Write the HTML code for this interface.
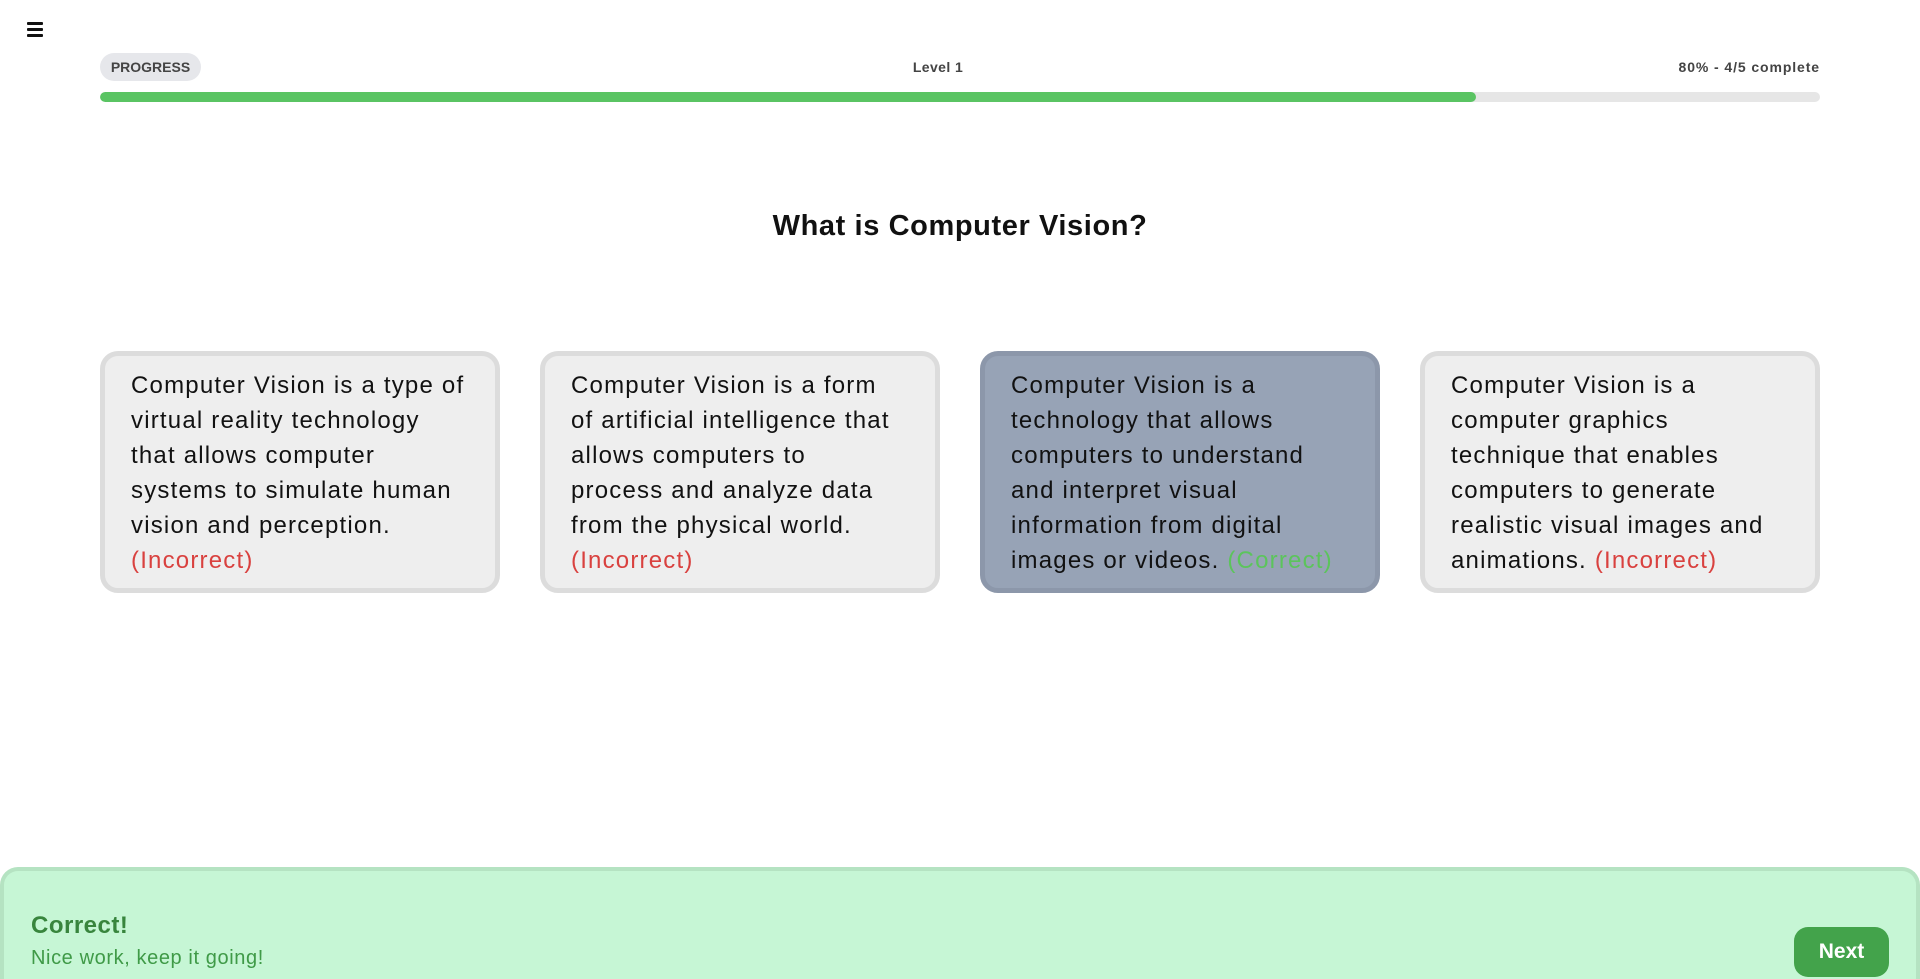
<!DOCTYPE html>
<html><head><meta charset="utf-8"><style>
*{box-sizing:border-box;margin:0;padding:0}
html{width:1920px;height:979px;overflow:hidden}
body{width:1920px;height:979px;overflow:hidden;background:#fff;font-family:"Liberation Sans",sans-serif;position:relative;color:#111}
.abs{position:absolute}
.ham{left:27px;top:22px;width:16px;height:15px}
.ham div{height:3px;background:#111;margin-bottom:3px;border-radius:1px}
.pill{left:100px;top:53px;width:101px;height:28px;border-radius:14px;background:#e6e7eb;color:#444;font-size:14px;font-weight:bold;text-align:center;line-height:28px}
.lvl{left:838px;width:200px;top:59px;text-align:center;font-size:14px;font-weight:bold;color:#444;letter-spacing:0.4px}
.pct{right:100px;top:59px;font-size:14px;font-weight:bold;color:#444;letter-spacing:0.9px}
.track{left:100px;top:92px;width:1720px;height:10px;border-radius:5px;background:#e6e6e6;overflow:hidden}
.fill{width:1376px;height:10px;background:#5ac463;border-radius:5px}
h1{position:absolute;left:0;width:1920px;top:210px;text-align:center;font-size:29px;font-weight:bold;color:#111;letter-spacing:0.6px}
.card{position:absolute;top:351px;width:400px;height:242px;border:5px solid #dcdcdc;border-radius:18px;background:#eeeeee;padding:12px 0 0 26px;font-size:24px;line-height:35px;white-space:nowrap;color:#111;letter-spacing:1.2px}
.sel{background:#97a3b6;border-color:#8c97aa}
.bad{color:#d9413f}.good{color:#5cc45c}
.panel{left:0;top:867px;width:1920px;height:112px;background:#c6f6d5;border:4px solid #b5e3c2;border-bottom:none;border-radius:18px 18px 0 0}
.c1{left:31px;top:912px;font-size:24px;font-weight:bold;color:#38853d;letter-spacing:0.5px}
.c2{left:31px;top:947px;font-size:20px;color:#3f9a47;letter-spacing:0.6px}
.next{left:1794px;top:927px;width:95px;height:50px;border-radius:14px;background:#43a34b;color:#fff;font-weight:bold;font-size:21px;text-align:center;line-height:50px}
</style></head><body>
<div class="abs ham"><div></div><div></div><div></div></div>
<div class="abs pill">PROGRESS</div>
<div class="abs lvl">Level 1</div>
<div class="abs pct">80% - 4/5 complete</div>
<div class="abs track"><div class="fill"></div></div>
<h1>What is Computer Vision?</h1>
<div class="card" style="left:100px">Computer Vision is a type of<br>virtual reality technology<br>that allows computer<br>systems to simulate human<br>vision and perception.<br><span class="bad">(Incorrect)</span></div>
<div class="card" style="left:540px">Computer Vision is a form<br>of artificial intelligence that<br>allows computers to<br>process and analyze data<br>from the physical world.<br><span class="bad">(Incorrect)</span></div>
<div class="card sel" style="left:980px">Computer Vision is a<br>technology that allows<br>computers to understand<br>and interpret visual<br>information from digital<br>images or videos. <span class="good">(Correct)</span></div>
<div class="card" style="left:1420px">Computer Vision is a<br>computer graphics<br>technique that enables<br>computers to generate<br>realistic visual images and<br>animations. <span class="bad">(Incorrect)</span></div>
<div class="abs panel"></div>
<div class="abs c1">Correct!</div>
<div class="abs c2">Nice work, keep it going!</div>
<div class="abs next">Next</div>
</body></html>
